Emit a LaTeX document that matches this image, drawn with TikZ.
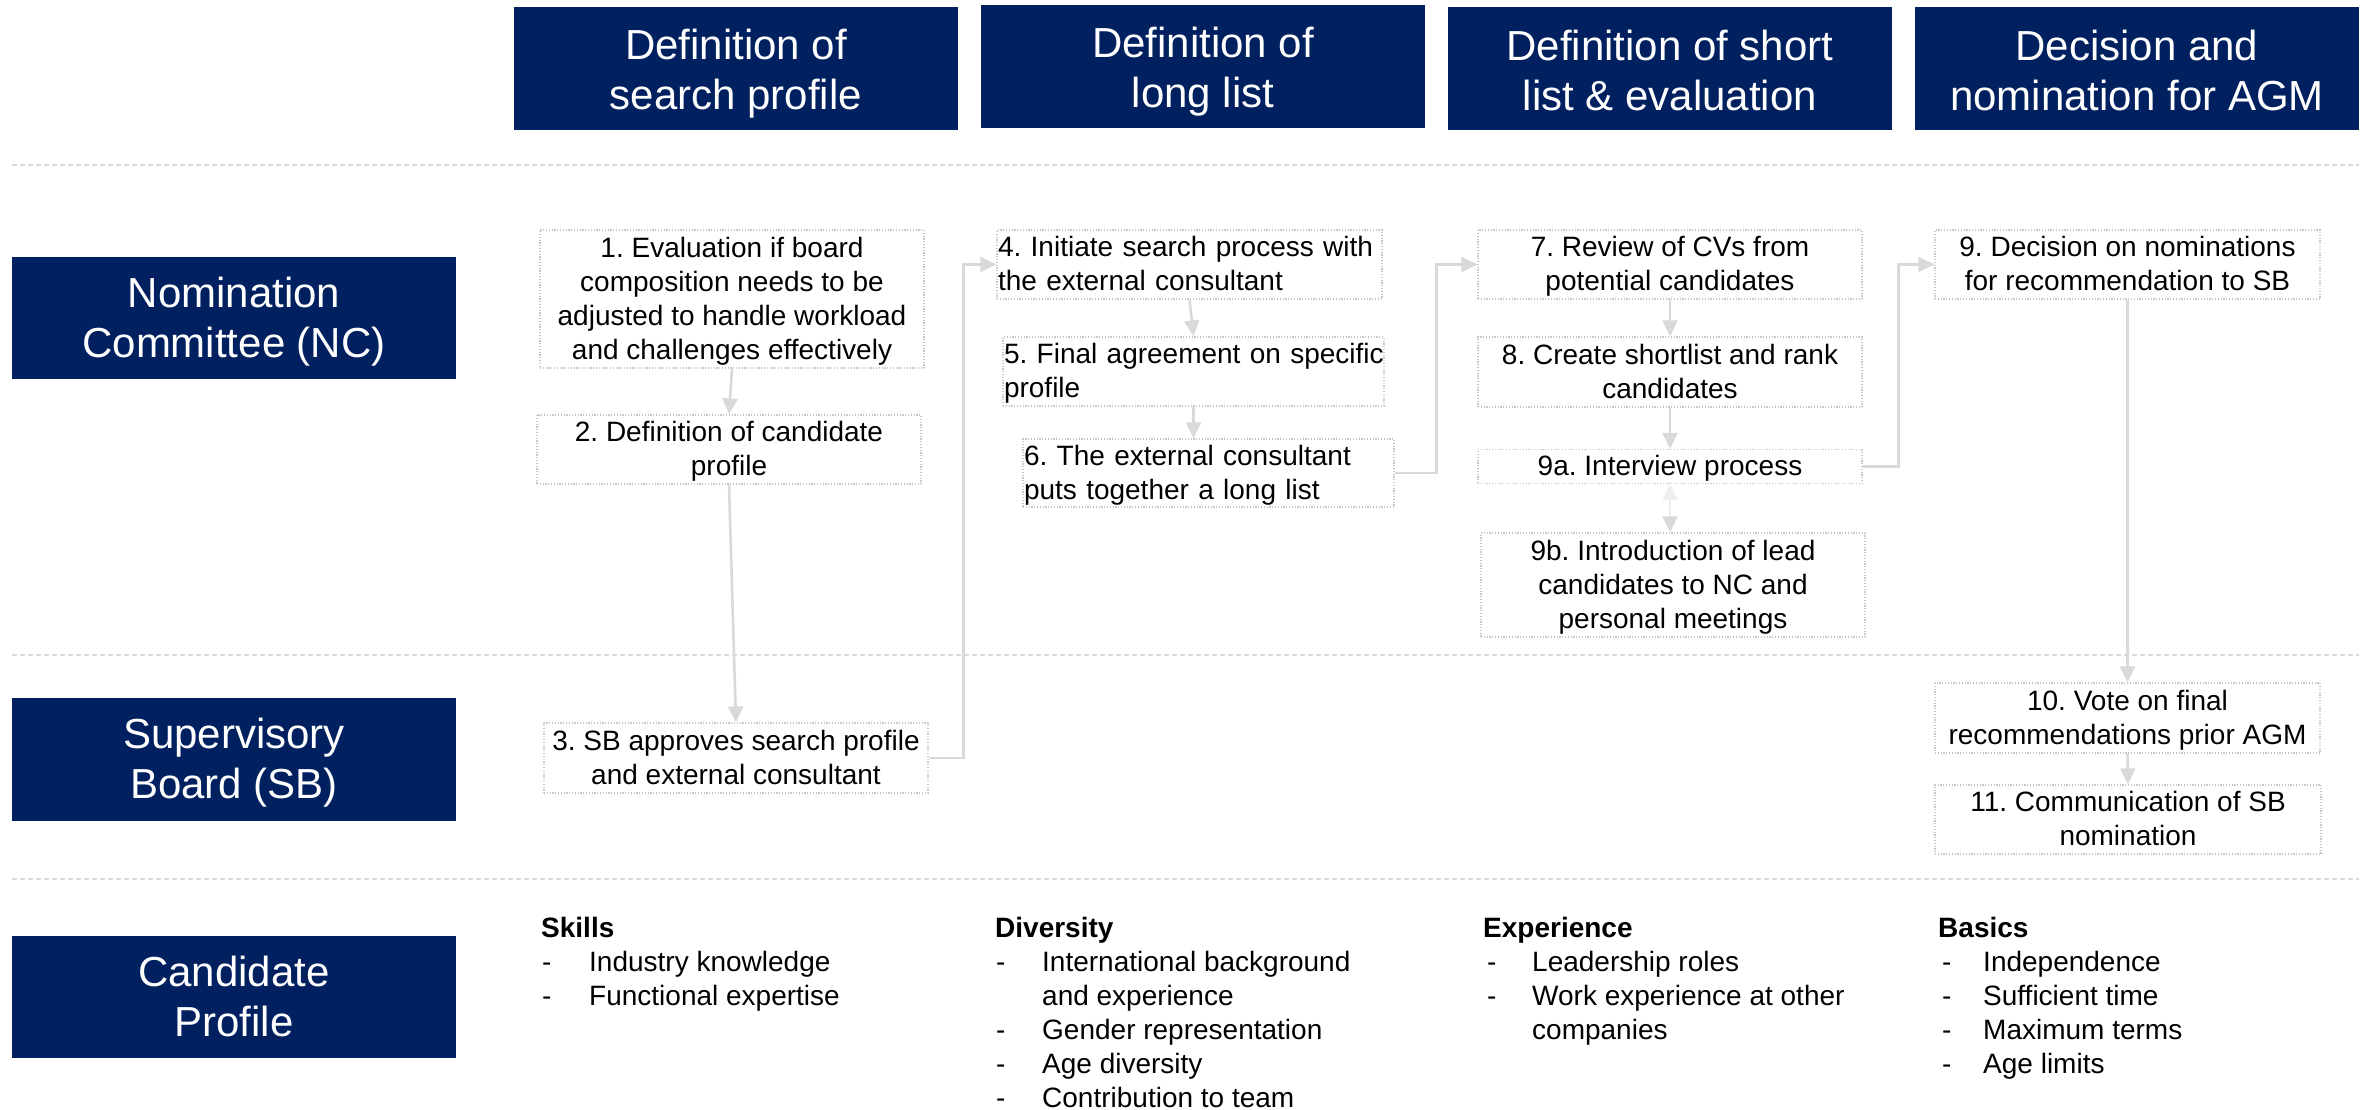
\documentclass[tikz,border=0pt]{standalone}
\usepackage{fontspec}
\setmainfont{Liberation Sans}
\usetikzlibrary{arrows.meta}
\definecolor{navy}{RGB}{0,32,96}
\definecolor{boxgray}{RGB}{200,200,200}
\definecolor{arrgray}{RGB}{217,217,217}
\definecolor{lightarr}{RGB}{238,238,238}
\definecolor{sepgray}{RGB}{217,217,217}
\newcommand\hdstrut{\rule[-10pt]{0pt}{48pt}}
\newcommand\colstrut{\rule[-7pt]{0pt}{48pt}}
\newcommand\bxstrut{\rule[-7pt]{0pt}{32pt}}
\frenchspacing
\tikzset{
  hdr/.style={fill=navy, text=white, font=\fontsize{42}{50}\selectfont\frenchspacing, align=center,
    inner sep=0pt, minimum width=444pt, minimum height=123pt},
  pbox/.style={draw=boxgray, line width=1.2pt, dash pattern=on 1.2pt off 1.6pt,
    inner xsep=0pt, inner ysep=0pt, font=\fontsize{28}{34}\selectfont\frenchspacing, align=center, text=black},
  pboxl/.style={pbox, align=left, inner xsep=1pt},
  conn/.style={draw=arrgray, line width=2.6pt, -{Triangle[length=16pt,width=15pt]}},
  sepline/.style={draw=sepgray, line width=2.5pt, dash pattern=on 5pt off 3pt},
  cphead/.style={font=\fontsize{28}{34}\selectfont\bfseries, anchor=base west, inner sep=0pt},
  cpitem/.style={font=\fontsize{28}{34}\selectfont, anchor=base west, inner sep=0pt},
}
\begin{document}
\begin{tikzpicture}[x=1pt,y=-1pt]
\useasboundingbox (0,0) rectangle (2369,1110);

% separators
\draw[sepline] (12,165) -- (2359,165);
\draw[sepline] (12,655) -- (2359,655);
\draw[sepline] (12,879) -- (2359,879);

% column headers
\node[hdr] (h1) at (736,68.5) {\colstrut Definition of\\search profile\colstrut};
\node[hdr] (h2) at (1203,66.5) {\colstrut Definition of\\long list\colstrut};
\node[hdr] (h3) at (1670,68.5) {\colstrut Definition of short\\list \& evaluation\colstrut};
\node[hdr] (h4) at (2137,68.5) {\colstrut Decision and\\nomination for AGM\colstrut};

% row labels
\node[hdr, minimum height=122pt] (nc) at (234,318) {\hdstrut Nomination\\Committee (NC)\hdstrut};
\node[hdr] (sb) at (234,759.5) {\hdstrut Supervisory\\Board (SB)\hdstrut};
\node[hdr, minimum height=122pt] (cp) at (234,997) {\hdstrut Candidate\\Profile\hdstrut};

% process boxes
\node[pbox, minimum width=384pt, minimum height=138pt] (b1) at (732,299)
  {\bxstrut 1. Evaluation if board\\composition needs to be\\adjusted to handle workload\\and challenges effectively\bxstrut};
\node[pbox, minimum width=384pt, minimum height=69pt] (b2) at (729,449.5)
  {\bxstrut 2. Definition of candidate\\profile\bxstrut};
\node[pbox, minimum width=384pt, minimum height=70pt] (b3) at (736,758)
  {\bxstrut 3. SB approves search profile\\and external consultant\bxstrut};
\node[pboxl, text width=383pt, minimum height=69pt] (b4) at (1189.5,264.5)
  {\bxstrut\mbox{4. Initiate search process with}\\\mbox{the external consultant}\bxstrut};
\node[pboxl, text width=379pt, minimum height=69pt] (b5) at (1193.5,371.5)
  {\bxstrut\mbox{5. Final agreement on specific}\\\mbox{profile}\bxstrut};
\node[pboxl, text width=369pt, minimum height=68pt] (b6) at (1208.5,473)
  {\bxstrut\mbox{6. The external consultant}\\\mbox{puts together a long list}\bxstrut};
\node[pbox, minimum width=384pt, minimum height=69pt] (b7) at (1670,264.5)
  {\bxstrut 7. Review of CVs from\\potential candidates\bxstrut};
\node[pbox, minimum width=384pt, minimum height=70pt] (b8) at (1670,372)
  {\bxstrut 8. Create shortlist and rank\\candidates\bxstrut};
\node[pbox, minimum width=384pt, minimum height=34pt] (b9a) at (1670,466.5)
  {\bxstrut 9a. Interview process\bxstrut};
\node[pbox, minimum width=384pt, minimum height=104pt] (b9b) at (1673,585)
  {\bxstrut 9b. Introduction of lead\\candidates to NC and\\personal meetings\bxstrut};
\node[pbox, minimum width=385pt, minimum height=69pt] (b9) at (2127.5,264.5)
  {\bxstrut 9. Decision on nominations\\for recommendation to SB\bxstrut};
\node[pbox, minimum width=385pt, minimum height=70pt] (b10) at (2127.5,718)
  {\bxstrut 10. Vote on final\\recommendations prior AGM\bxstrut};
\node[pbox, minimum width=386pt, minimum height=69pt] (b11) at (2128,819.5)
  {\bxstrut 11. Communication of SB\\nomination\bxstrut};

% connectors
\draw[conn] (b1.south) -- (b2.north);
\draw[conn] (b2.south) -- (b3.north);
\draw[conn] (b3.east) -- ++(35,0) |- (b4.west);
\draw[conn] (b4.south) -- (b5.north);
\draw[conn] (b5.south) -- (b5.south |- b6.north);
\draw[conn] (b6.east) -- ++(42,0) |- (b7.west);
\draw[conn] (b7.south) -- (b8.north);
\draw[conn] (b8.south) -- (b9a.north);
\draw[draw=lightarr, line width=2.6pt,
  {Triangle[length=16pt,width=15pt]}-{Triangle[length=16pt,width=15pt,color=arrgray]}]
  (b9a.south) -- (b9a.south |- b9b.north);
\draw[conn] (b9a.east) -- ++(36,0) |- (b9.west);
\draw[conn] (b9.south) -- (b10.north);
\draw[conn] (b10.south) -- (b11.north);

% candidate profile lists
\node[cphead] (sk) at (541,937) {Skills};
\node[cpitem] (sk1d) at (542,971) {-};
\node[cpitem] (sk1) at (589,971) {Industry knowledge};
\node[cpitem] (sk2d) at (542,1005) {-};
\node[cpitem] (sk2) at (589,1005) {Functional expertise};

\node[cphead] (dv) at (995,937) {Diversity};
\node[cpitem] (dv1d) at (996,971) {-};
\node[cpitem] (dv1) at (1042,971) {International background};
\node[cpitem] (dv1b) at (1042,1005) {and experience};
\node[cpitem] (dv2d) at (996,1039) {-};
\node[cpitem] (dv2) at (1042,1039) {Gender representation};
\node[cpitem] (dv3d) at (996,1073) {-};
\node[cpitem] (dv3) at (1042,1073) {Age diversity};
\node[cpitem] (dv4d) at (996,1107) {-};
\node[cpitem] (dv4) at (1042,1107) {Contribution to team};

\node[cphead] (ex) at (1483,937) {Experience};
\node[cpitem] (ex1d) at (1487,971) {-};
\node[cpitem] (ex1) at (1532,971) {Leadership roles};
\node[cpitem] (ex2d) at (1487,1005) {-};
\node[cpitem] (ex2) at (1532,1005) {Work experience at other};
\node[cpitem] (ex2b) at (1532,1039) {companies};

\node[cphead] (ba) at (1938,937) {Basics};
\node[cpitem] (ba1d) at (1942,971) {-};
\node[cpitem] (ba1) at (1983,971) {Independence};
\node[cpitem] (ba2d) at (1942,1005) {-};
\node[cpitem] (ba2) at (1983,1005) {Sufficient time};
\node[cpitem] (ba3d) at (1942,1039) {-};
\node[cpitem] (ba3) at (1983,1039) {Maximum terms};
\node[cpitem] (ba4d) at (1942,1073) {-};
\node[cpitem] (ba4) at (1983,1073) {Age limits};
\end{tikzpicture}
\end{document}
